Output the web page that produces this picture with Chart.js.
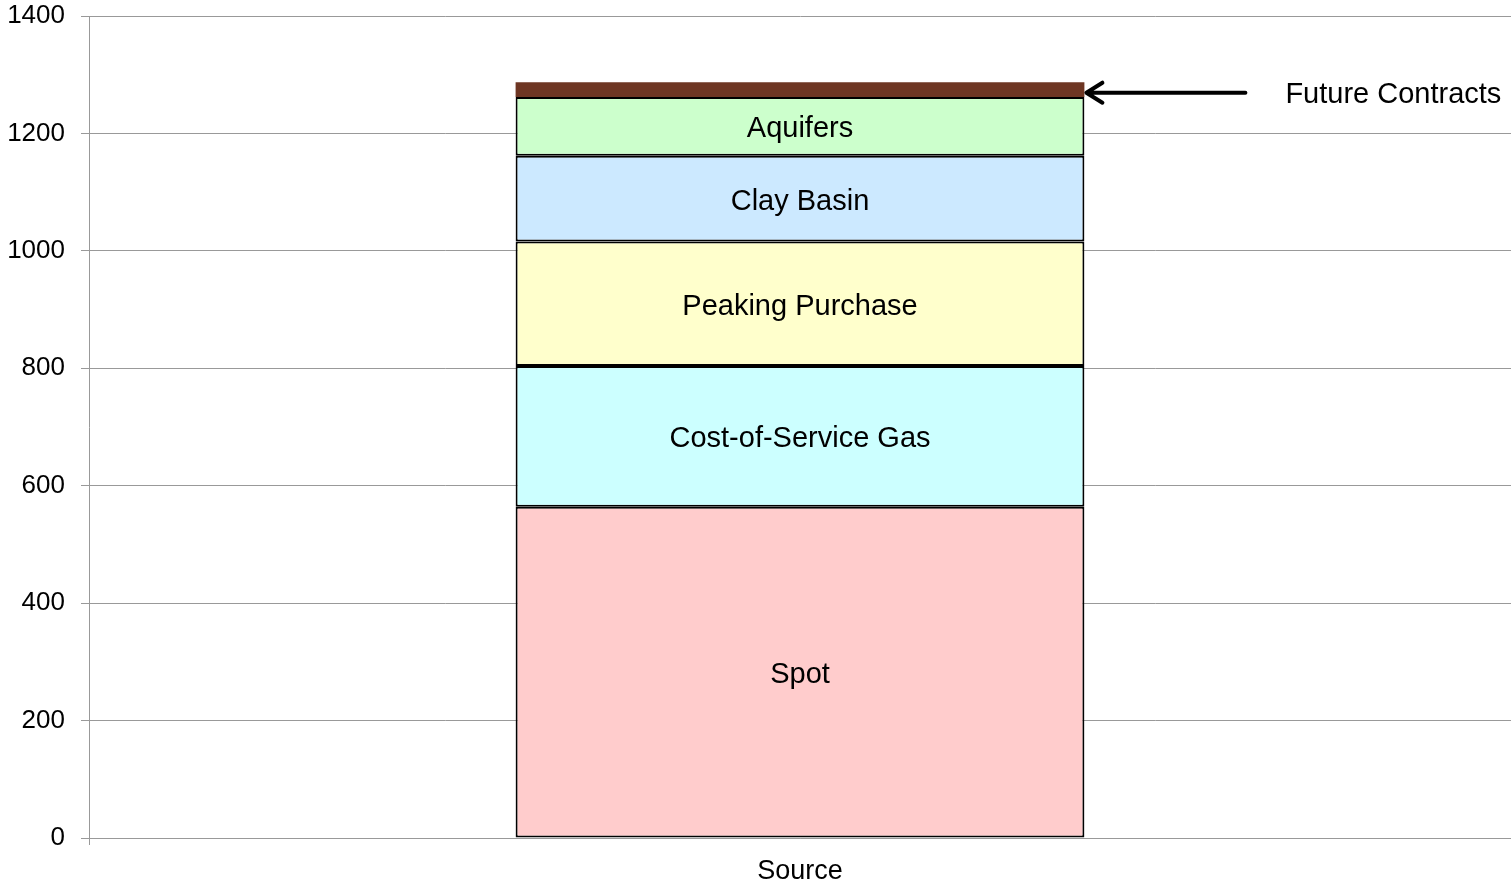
<!DOCTYPE html>
<html>
<head>
<meta charset="utf-8">
<script src="https://cdn.jsdelivr.net/npm/chart.js@4.4.1/dist/chart.umd.min.js"></script>
<style>
  html, body { margin: 0; padding: 0; background: #fff; }
  #wrap { width: 1511px; height: 885px; }
</style>
</head>
<body>
<div id="wrap"><canvas id="grafico"></canvas></div>
<script>
const categorias = ['Source'];
const fontes = ['Spot', 'Cost-of-Service Gas', 'Peaking Purchase', 'Clay Basin', 'Aquifers', 'Future Contracts'];
const valores = [564, 240, 212, 146, 100, 25];
const cores = ['#ffcccc', '#ccffff', '#ffffcc', '#cce9ff', '#ccffcc', '#6e3623'];
const ticksY = [0, 200, 400, 600, 800, 1000, 1200, 1400];

const fonte = 'Liberation Sans, Arial, sans-serif';

// rótulos dentro das barras + seta para "Future Contracts"
const rotulos = {
  id: 'rotulos',
  afterDatasetsDraw(chart) {
    const ctx = chart.ctx;
    ctx.save();
    ctx.fillStyle = '#000';
    ctx.textBaseline = 'middle';
    chart.data.datasets.forEach((ds, i) => {
      const bar = chart.getDatasetMeta(i).data[0];
      const meio = (bar.y + bar.base) / 2;
      ctx.font = '29px ' + fonte;
      if (i < chart.data.datasets.length - 1) {
        ctx.textAlign = 'center';
        ctx.fillText(ds.label, bar.x, meio + 3);
      } else {
        const ponta = bar.x + bar.width / 2;
        const ya = meio + 3;
        ctx.strokeStyle = '#000';
        ctx.lineWidth = 4;
        ctx.lineCap = 'round';
        ctx.lineJoin = 'round';
        ctx.beginPath();
        ctx.moveTo(ponta + 161, ya);
        ctx.lineTo(ponta + 2, ya);
        ctx.moveTo(ponta + 18, ya - 10);
        ctx.lineTo(ponta + 2, ya);
        ctx.lineTo(ponta + 18, ya + 10);
        ctx.stroke();
        ctx.textAlign = 'left';
        ctx.fillText(ds.label, ponta + 201, ya + 2);
      }
    });
    ctx.restore();
  }
};

const ctx = document.getElementById('grafico').getContext('2d');
new Chart(ctx, {
  type: 'bar',
  data: {
    labels: categorias,
    datasets: fontes.map((nome, i) => ({
      label: nome,
      data: [valores[i]],
      backgroundColor: cores[i],
      borderColor: i === fontes.length - 1 ? cores[i] : '#000',
      borderWidth: i === fontes.length - 1 ? 0 : 2,
      borderSkipped: false,
      barPercentage: 0.4,
      categoryPercentage: 1
    }))
  },
  options: {
    responsive: true,
    maintainAspectRatio: false,
    animation: false,
    layout: { padding: { top: 16, right: 0, left: 0, bottom: 0 } },
    plugins: {
      legend: { display: false },
      tooltip: { enabled: false }
    },
    scales: {
      x: {
        stacked: true,
        offset: true,
        grid: { offset: true, drawOnChartArea: false, drawTicks: true, tickLength: 7, color: '#999' },
        border: { color: '#999', width: 1 },
        ticks: { color: '#000', font: { family: fonte, size: 27 }, padding: 10 },
        afterFit(scale) { scale.height = 47; }
      },
      y: {
        stacked: true,
        min: 0,
        max: 1400,
        afterBuildTicks(scale) { scale.ticks = ticksY.map(v => ({ value: v })); },
        grid: { color: '#999', tickLength: 8 },
        border: { color: '#999', width: 1 },
        ticks: { color: '#000', font: { family: fonte, size: 26 }, padding: 16, callback: v => String(v) },
        afterFit(scale) {
          scale.width = 89;
          scale.paddingTop = 0;
          scale.paddingBottom = 0;
        }
      }
    }
  },
  plugins: [rotulos]
});
</script>
</body>
</html>
